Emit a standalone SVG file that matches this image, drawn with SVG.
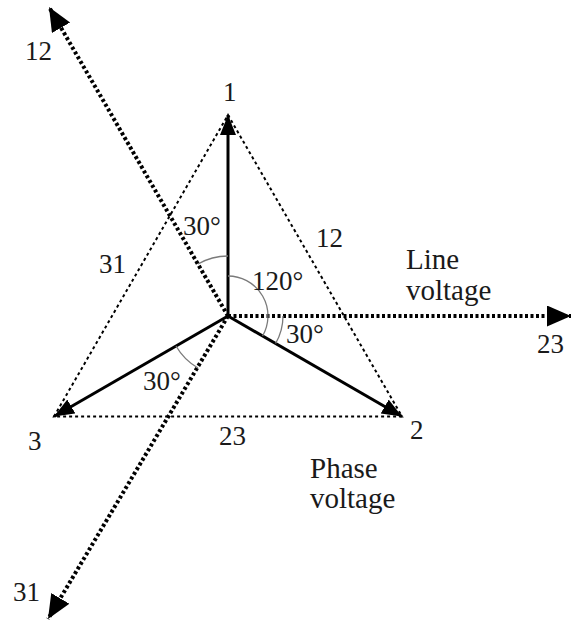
<svg xmlns="http://www.w3.org/2000/svg" width="572" height="623" viewBox="0 0 572 623">
<style>
text{font-family:"Liberation Serif","Times New Roman",serif;fill:#1a1a1a;font-size:27px}
.w{font-size:29px}
.phase{stroke:#000;stroke-width:3;fill:none}
.line{stroke:#000;stroke-width:4;stroke-dasharray:3 2.5;fill:none}
.tri{stroke:#000;stroke-width:2;stroke-dasharray:3 3;fill:none}
.arc{stroke:#7a7a7a;stroke-width:1.3;fill:none}
</style>
<defs>
<marker id="hl" markerUnits="userSpaceOnUse" markerWidth="26" markerHeight="22" refX="24" refY="10.5" orient="auto">
<path d="M0,0 L24,10.5 L0,21 z" fill="#000"/>
</marker>
<marker id="hp" markerUnits="userSpaceOnUse" markerWidth="22" markerHeight="18" refX="20" refY="8" orient="auto">
<path d="M0,0 L20,8 L0,16 z" fill="#000"/>
</marker>
</defs>
<g id="connectors">
<path class="tri" d="M228,115 L402,416.5 L54,416.5 Z"/>
<line class="line" x1="228" y1="316" x2="49" y2="7" marker-end="url(#hl)"/>
<line class="line" x1="228" y1="316" x2="48" y2="619" marker-end="url(#hl)"/>
<line class="line" x1="228" y1="316" x2="571" y2="316" marker-end="url(#hl)"/>
<line class="phase" x1="228" y1="316" x2="228" y2="115" marker-end="url(#hp)"/>
<line class="phase" x1="228" y1="316" x2="402" y2="416.5" marker-end="url(#hp)"/>
<line class="phase" x1="228" y1="316" x2="54" y2="416.5" marker-end="url(#hp)"/>
<path class="arc" d="M228,256 A60,60 0 0,0 198,264"/>
<path class="arc" d="M228,276 A40,40 0 0,1 262.6,336"/>
<path class="arc" d="M283,316 A55,55 0 0,1 275.6,343.5"/>
<path class="arc" d="M176,346 A60,60 0 0,0 198,368"/>
</g>
<g id="labels">
<text x="25" y="60">12</text>
<text x="223" y="101">1</text>
<text x="183" y="235">30°</text>
<text x="99" y="273">31</text>
<text x="316" y="247">12</text>
<text x="252" y="290">120°</text>
<text class="w" x="406" y="269">Line</text>
<text class="w" x="406" y="300">voltage</text>
<text x="537" y="353">23</text>
<text x="286" y="343">30°</text>
<text x="143" y="390">30°</text>
<text x="28" y="450">3</text>
<text x="219" y="445">23</text>
<text x="410" y="439">2</text>
<text class="w" x="310" y="478">Phase</text>
<text class="w" x="310" y="508">voltage</text>
<text x="13" y="601">31</text>
</g>
</svg>
